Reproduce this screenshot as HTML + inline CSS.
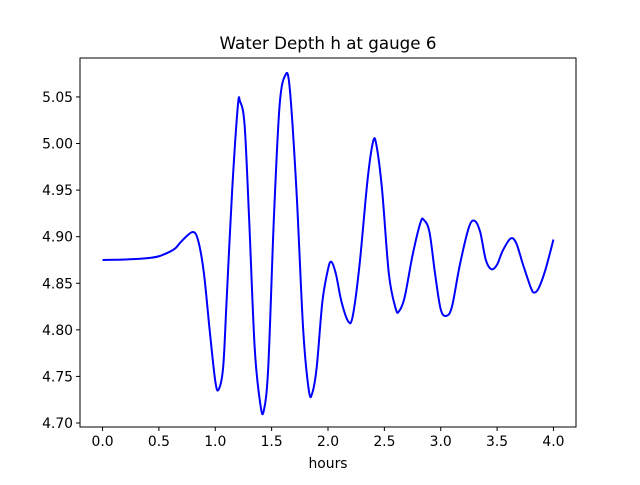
<!DOCTYPE html>
<html><head><meta charset="utf-8"><style>
body{margin:0;background:#fff;}
svg text{font-family:"DejaVu Sans","Liberation Sans",sans-serif;fill:#000;}
</style></head><body>
<svg id="chart" width="640" height="480" viewBox="0 0 640 480" xmlns="http://www.w3.org/2000/svg">
<rect width="640" height="480" fill="#fff"/>
<text x="328" y="49" font-size="16.7" text-anchor="middle">Water Depth h at gauge 6</text>
<g id="xticks"></g>
<g id="yticks"></g>
<path id="line" fill="none" stroke="#0000ff" stroke-width="2"/>
<rect x="80" y="58" width="496" height="369" fill="none" stroke="#000" stroke-width="1"/>
<text x="328" y="468" font-size="13.9" text-anchor="middle">hours</text>
</svg>
<script>
const times=[0.0,0.2,0.4,0.5,0.6,0.65,0.7,0.8,0.85,0.9,0.95,1.0,1.03,1.07,1.1,1.15,1.2,1.22,1.26,1.3,1.35,1.4,1.43,1.47,1.52,1.57,1.62,1.66,1.72,1.78,1.83,1.86,1.9,1.95,2.0,2.03,2.07,2.12,2.18,2.22,2.28,2.35,2.4,2.43,2.48,2.54,2.6,2.63,2.68,2.75,2.82,2.85,2.9,2.95,3.0,3.05,3.1,3.17,3.25,3.3,3.35,3.4,3.45,3.5,3.55,3.62,3.67,3.73,3.8,3.83,3.87,3.93,4.0];
const depths=[4.875,4.8755,4.877,4.879,4.884,4.888,4.895,4.905,4.895,4.86,4.80,4.745,4.736,4.76,4.83,4.95,5.04,5.045,5.02,4.92,4.78,4.72,4.713,4.76,4.92,5.04,5.073,5.06,4.95,4.80,4.735,4.732,4.76,4.83,4.865,4.873,4.86,4.83,4.809,4.815,4.87,4.96,5.002,4.998,4.95,4.86,4.823,4.82,4.835,4.88,4.915,4.918,4.905,4.86,4.822,4.815,4.825,4.87,4.91,4.917,4.905,4.875,4.865,4.87,4.885,4.898,4.893,4.87,4.845,4.84,4.845,4.865,4.897];
const xTickLabels=["0.0","0.5","1.0","1.5","2.0","2.5","3.0","3.5","4.0"];
const yTickLabels=["4.70","4.75","4.80","4.85","4.90","4.95","5.00","5.05"];
const X0=80,X1=576,Y0=427,Y1=58;
const xMin=-0.2,xMax=4.2,yMin=4.6957,yMax=5.0918;
const sx=v=>X0+(v-xMin)/(xMax-xMin)*(X1-X0);
const sy=v=>Y0-(v-yMin)/(yMax-yMin)*(Y0-Y1);
const NS="http://www.w3.org/2000/svg";
const xg=document.getElementById('xticks'),yg=document.getElementById('yticks');
xTickLabels.forEach(l=>{const x=sx(parseFloat(l));
 const t=document.createElementNS(NS,'line');t.setAttribute('x1',x);t.setAttribute('x2',x);t.setAttribute('y1',Y0);t.setAttribute('y2',Y0+4);t.setAttribute('stroke','#000');
 
 
 xg.appendChild(t);
 const tx=document.createElementNS(NS,'text');tx.setAttribute('x',x);tx.setAttribute('y',Y0+19);tx.setAttribute('font-size','13.9');tx.setAttribute('text-anchor','middle');tx.textContent=l;
 
 
 xg.appendChild(tx);});
yTickLabels.forEach(l=>{const y=sy(parseFloat(l));
 const t=document.createElementNS(NS,'line');t.setAttribute('x1',X0-4);t.setAttribute('x2',X0);t.setAttribute('y1',y);t.setAttribute('y2',y);t.setAttribute('stroke','#000');
 
 
 yg.appendChild(t);
 const tx=document.createElementNS(NS,'text');tx.setAttribute('x',X0-7);tx.setAttribute('y',y+5);tx.setAttribute('font-size','13.9');tx.setAttribute('text-anchor','end');tx.textContent=l;
 
 
 yg.appendChild(tx);});
const P=times.map((t,i)=>[sx(t),sy(depths[i])]);
let d='M'+P[0][0]+','+P[0][1];
for(let i=0;i<P.length-1;i++){const p0=P[Math.max(i-1,0)],p1=P[i],p2=P[i+1],p3=P[Math.min(i+2,P.length-1)];
 const c1=[p1[0]+(p2[0]-p0[0])/6,p1[1]+(p2[1]-p0[1])/6],c2=[p2[0]-(p3[0]-p1[0])/6,p2[1]-(p3[1]-p1[1])/6];
 d+=` C${c1[0]},${c1[1]} ${c2[0]},${c2[1]} ${p2[0]},${p2[1]}`;}
document.getElementById('line').setAttribute('d',d);
</script>
</body></html>
